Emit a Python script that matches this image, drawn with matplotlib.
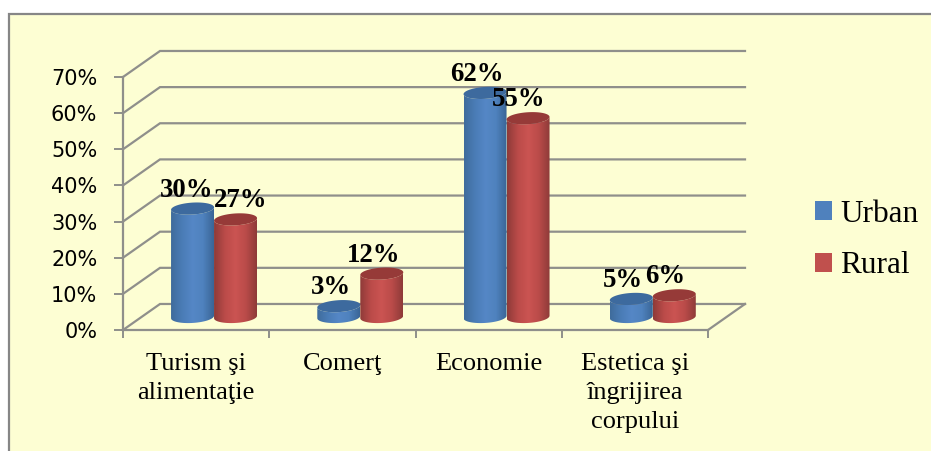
import numpy as np
import matplotlib
matplotlib.use('Agg')
import matplotlib.pyplot as plt
from matplotlib.colors import LinearSegmentedColormap
from matplotlib.patches import PathPatch, Patch, Rectangle
from matplotlib.path import Path

categories = ['Turism şi\nalimentaţie', 'Comerţ', 'Economie', 'Estetica şi\nîngrijirea\ncorpului']
urban = [30, 3, 62, 5]
rural = [27, 12, 55, 6]
yticks = [0, 10, 20, 30, 40, 50, 60, 70]

W, H = 931, 451
GRID = '#8f8f8b'
BG = '#fdfed3'
DEPTH_X = 0.253   # oblique offset of the back wall
DEPTH_Y = 7.2
BAR_W = 0.294
BASE_Y = 3.6      # bars stand a bit behind the front edge
ELL_H = 1.65
TILT = 0.35

blue_cm = LinearSegmentedColormap.from_list('b', ['#3f6c9c', '#4a7cb6', '#5587c6', '#4f82be', '#3a6697'])
red_cm = LinearSegmentedColormap.from_list('r', ['#8f3b39', '#bb4b49', '#cb5452', '#ba4b49', '#8f3b39'])

fig = plt.figure(figsize=(W / 100, H / 100), dpi=100, facecolor='white')
fig.add_artist(Rectangle((9 / W, -0.1), 1.1, 1 - 14 / H + 0.1, transform=fig.transFigure,
                         fc=BG, ec='#868686', lw=1.6, zorder=-1))
ax = fig.add_axes([123 / W, (H - 330) / H, 585 / W, 253 / H])
ax.patch.set_visible(False)


def cylinder(xc, val, cmap, top_col):
    t = np.linspace(np.pi, 2 * np.pi, 40)
    xs = xc + BAR_W / 2 * np.cos(t)
    ws = np.sin(t) * ELL_H + TILT * np.cos(t)
    base = BASE_Y + ws
    top = BASE_Y + val + ws
    verts = np.column_stack([np.r_[xs, xs[::-1]], np.r_[base, top[::-1]]])
    body = PathPatch(Path(np.vstack([verts, verts[0]])), transform=ax.transData, fc='none', ec='none')
    im = ax.imshow(np.linspace(0, 1, 64).reshape(1, -1), cmap=cmap, aspect='auto', zorder=3,
                   extent=[xc - BAR_W / 2, xc + BAR_W / 2, 0, 80], clip_on=True)
    im.set_clip_path(body)
    t2 = np.linspace(0, 2 * np.pi, 80)
    ax.fill(xc + BAR_W / 2 * np.cos(t2), BASE_Y + val + np.sin(t2) * ELL_H + TILT * np.cos(t2),
            fc=top_col, ec='none', zorder=3, clip_on=False)


for v in yticks:
    ax.plot([0, DEPTH_X, 4 + DEPTH_X], [v, v + DEPTH_Y, v + DEPTH_Y], color=GRID, lw=1.6,
            clip_on=False, zorder=1, solid_joinstyle='miter')
ax.plot([4, 4 + DEPTH_X], [0, DEPTH_Y], color=GRID, lw=1.6, clip_on=False, zorder=1)

label_dx = [-6, 5, -8, -8, -8, -9, -8, -9]
for i in range(len(categories)):
    xb = i + 0.5 - BAR_W / 2 + DEPTH_X / 2 - 0.004
    xr = i + 0.5 + BAR_W / 2 + DEPTH_X / 2 - 0.004
    cylinder(xb, urban[i], blue_cm, '#3d6a9e')
    cylinder(xr, rural[i], red_cm, '#963a38')
    for j, (x, val) in enumerate([(xb, urban[i]), (xr, rural[i])]):
        ax.annotate('%d%%' % val, (x, val + BASE_Y), xytext=(label_dx[2 * i + j] * 0.72, 8.6),
                    textcoords='offset points', ha='center', va='baseline', zorder=5,
                    fontsize=19.3, fontweight='bold', family='Liberation Serif', color='black')

ax.set_xlim(0, 4)
ax.set_ylim(0, 70)
for s in ['top', 'right']:
    ax.spines[s].set_visible(False)
for s in ['left', 'bottom']:
    ax.spines[s].set_color(GRID)
    ax.spines[s].set_linewidth(1.6)
ax.set_yticks(yticks)
ax.set_yticklabels(['%d%%' % v for v in yticks], fontsize=15, family='DejaVu Sans', color='black')
ax.tick_params(axis='y', length=6.5, width=1.4, color=GRID, pad=12)
ax.set_xticks(range(5))
ax.set_xticklabels([])
ax.tick_params(axis='x', which='major', length=6, width=1.4, color=GRID)
ax.set_xticks(np.arange(len(categories)) + 0.5, minor=True)
ax.set_xticklabels(categories, minor=True, fontsize=19, family='Liberation Serif', color='black',
                   linespacing=1.4)
ax.tick_params(axis='x', which='minor', length=0, pad=16.5)

handles = [Patch(fc='#4f81bd', ec='none', label='Urban'), Patch(fc='#c0504d', ec='none', label='Rural')]
fig.legend(handles=handles, loc='upper left', bbox_to_anchor=(815 / W, 1 - 199.5 / H), frameon=False,
           prop={'family': 'Liberation Serif', 'size': 22.5}, handlelength=0.55, handleheight=0.55,
           handletextpad=0.26, labelspacing=0.73, borderpad=0, borderaxespad=0)

fig.savefig('out.png', dpi=100, facecolor='white')
